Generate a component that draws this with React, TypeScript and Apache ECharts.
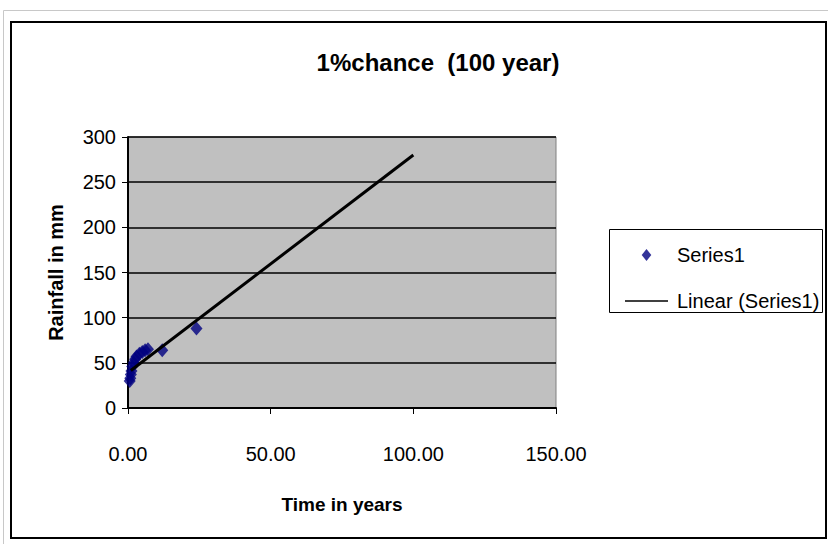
import React, { useEffect, useRef } from "react";
import * as echarts from "echarts";

// Observed rainfall depths against time
const years = [0.6, 0.8, 1.0, 1.2, 1.5, 2, 2.5, 3, 4, 5, 6, 7, 12, 24];
const rainfall = [30, 33, 37, 41, 46, 50, 54, 57, 60, 62, 64, 65, 64, 88];

// Linear trend, forecast forward to 100 years
const trendYears = [1, 100];
const trendRainfall = [41.5, 280];

const xTicks = [0, 50, 100, 150];
const yTicks = [0, 50, 100, 150, 200, 250, 300];

const FONT = "'Liberation Sans', Arial, sans-serif";

export default function App() {
  const ref = useRef<HTMLDivElement>(null);

  useEffect(() => {
    if (!ref.current) return;
    const chart = echarts.init(ref.current, undefined, { renderer: "svg" });
    chart.setOption({
      animation: false,
      backgroundColor: "#ffffff",
      textStyle: { fontFamily: FONT },
      title: {
        text: "1%chance  (100 year)",
        left: 433,
        top: 45,
        textAlign: "center",
        textStyle: { fontFamily: FONT, fontWeight: "bold", fontSize: 24, color: "#000" },
      },
      graphic: [
        {
          type: "rect",
          shape: { x: 3.5, y: 10.5, width: 830, height: 540 },
          style: { fill: "none", stroke: "#c8c8c8", lineWidth: 1 },
          silent: true,
        },
        {
          type: "rect",
          shape: { x: 11, y: 22, width: 815, height: 516 },
          style: { fill: "none", stroke: "#000", lineWidth: 2 },
          silent: true,
        },
        {
          type: "rect",
          shape: { x: 609.5, y: 229.5, width: 213, height: 83 },
          style: { fill: "#fff", stroke: "#000", lineWidth: 1 },
          silent: true,
        },
      ],
      legend: {
        left: 625,
        top: 245,
        padding: 0,
        orient: "vertical",
        itemGap: 26,
        itemWidth: 43,
        itemHeight: 12,
        textStyle: {
          fontFamily: FONT,
          fontSize: 20,
          lineHeight: 20,
          color: "#000",
          padding: [0, 0, 0, 4],
        },
        data: [
          { name: "Series1", icon: "path://M0,0 L4,5 L0,10 L-4,5 Z" },
          {
            name: "Linear (Series1)",
            icon: "path://M0,5.5 L43,5.5 L43,6.8 L0,6.8 Z",
            itemStyle: { color: "#000" },
          },
        ],
      },
      grid: {
        left: 128,
        top: 137,
        right: 272,
        bottom: 136,
        show: true,
        backgroundColor: "#c0c0c0",
        borderColor: "#808080",
        borderWidth: 1,
        containLabel: false,
      },
      xAxis: {
        type: "value",
        min: xTicks[0],
        max: xTicks[xTicks.length - 1],
        interval: 50,
        name: "Time in years",
        nameLocation: "middle",
        nameGap: 87,
        nameTextStyle: { fontFamily: FONT, fontWeight: "bold", fontSize: 19, color: "#000" },
        axisLine: { show: true, lineStyle: { color: "#000", width: 2 } },
        axisTick: { show: true, length: 6, lineStyle: { color: "#000", width: 1 } },
        axisLabel: {
          margin: 36,
          fontFamily: FONT,
          fontSize: 20,
          color: "#000",
          formatter: (v: number) => v.toFixed(2),
        },
        splitLine: { show: false },
      },
      yAxis: {
        type: "value",
        min: yTicks[0],
        max: yTicks[yTicks.length - 1],
        interval: 50,
        name: "Rainfall in mm",
        nameLocation: "middle",
        nameGap: 62,
        nameTextStyle: { fontFamily: FONT, fontWeight: "bold", fontSize: 20, color: "#000" },
        axisLine: { show: true, lineStyle: { color: "#000", width: 2 } },
        axisTick: { show: true, length: 6, lineStyle: { color: "#000", width: 1 } },
        axisLabel: { margin: 12, fontFamily: FONT, fontSize: 20, color: "#000" },
        splitLine: { show: true, lineStyle: { color: "#000", width: 1.5 } },
      },
      series: [
        {
          name: "Linear (Series1)",
          type: "line",
          data: trendYears.map((x, i) => [x, trendRainfall[i]]),
          showSymbol: false,
          symbol: "none",
          lineStyle: { color: "#000", width: 3 },
          itemStyle: { color: "#000" },
          z: 3,
        },
        {
          name: "Series1",
          type: "scatter",
          data: years.map((x, i) => [x, rainfall[i]]),
          symbol: "diamond",
          symbolSize: [12, 14],
          itemStyle: { color: "#000080" },
          z: 2,
        },
      ],
    });
    return () => chart.dispose();
  }, []);

  return <div ref={ref} style={{ width: 828, height: 544, position: "absolute", left: 0, top: 0 }} />;
}
